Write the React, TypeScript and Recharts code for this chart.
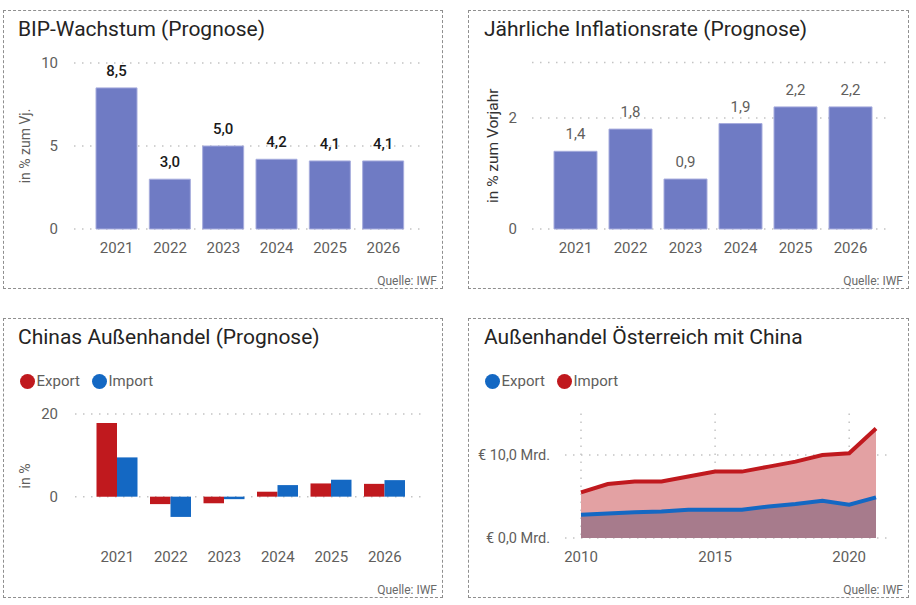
import React from 'react';
import {
  BarChart, Bar, XAxis, YAxis, CartesianGrid, LabelList,
  AreaChart, Area,
} from 'recharts';

const forecastYears = ['2021', '2022', '2023', '2024', '2025', '2026'];
const gdpGrowth = [8.5, 3.0, 5.0, 4.2, 4.1, 4.1];
const inflationRate = [1.4, 1.8, 0.9, 1.9, 2.2, 2.2];
const chinaExport = [17.8, -1.8, -1.6, 1.2, 3.2, 3.1];
const chinaImport = [9.5, -4.9, -0.6, 2.8, 4.1, 4.0];

const tradeYears = [2010, 2011, 2012, 2013, 2014, 2015, 2016, 2017, 2018, 2019, 2020, 2021];
const atExportToChina = [2.8, 2.95, 3.1, 3.2, 3.4, 3.4, 3.4, 3.8, 4.1, 4.5, 4.0, 4.9];
const atImportFromChina = [5.5, 6.5, 6.8, 6.8, 7.4, 8.0, 8.0, 8.6, 9.2, 10.0, 10.2, 13.2];

const gdpTicks = [0, 5, 10];
const inflationTicks = [0, 2];
const chinaTicks = [0, 20];
const tradeYTicks = [0, 10];
const tradeXTicks = [2010, 2015, 2020];

const gdpData = forecastYears.map((y, i) => ({ year: y, value: gdpGrowth[i] }));
const inflationData = forecastYears.map((y, i) => ({ year: y, value: inflationRate[i] }));
const chinaData = forecastYears.map((y, i) => ({ year: y, exp: chinaExport[i], imp: chinaImport[i] }));
const tradeData = tradeYears.map((y, i) => ({ year: y, exp: atExportToChina[i], imp: atImportFromChina[i] }));

const FONT = 'Roboto, "DejaVu Sans", sans-serif';
const GRAY = '#605E5C';
const DARK = '#252423';
const BAR = '#6F7BC4';
const RED = '#C0191E';
const BLUE = '#1468C3';

const fmt = (v: number) => v.toFixed(1).replace('.', ',');
const fmtMrd = (v: number) => `€ ${v.toFixed(1).replace('.', ',')} Mrd.`;

const tickStyle = { fill: GRAY, fontSize: 15 };
const GRID = { stroke: '#c4c4c4', strokeWidth: 1.5, strokeDasharray: '1.5 6.5' };

function Panel(props: { left: number; top: number; width: number; height: number; title: string; titleLeft: number; children: React.ReactNode }) {
  return (
    <div
      style={{
        position: 'absolute', left: props.left, top: props.top, width: props.width, height: props.height,
        border: '1px dashed #8f8f8f', boxSizing: 'border-box',
      }}
    >
      <div style={{ position: 'absolute', left: props.titleLeft, top: 6, fontSize: 21, color: DARK, whiteSpace: 'nowrap', lineHeight: 'normal' }}>
        {props.title}
      </div>
      {props.children}
      <div style={{ position: 'absolute', right: 5, bottom: 0, fontSize: 12, color: '#6a6a6a', lineHeight: 'normal' }}>Quelle: IWF</div>
    </div>
  );
}

function LegendItem(props: { color: string; label: string; x: number }) {
  return (
    <div style={{ position: 'absolute', left: props.x - 7.5, top: 52, display: 'flex', alignItems: 'center', height: 20 }}>
      <span style={{ width: 15, height: 15, borderRadius: '50%', background: props.color, display: 'inline-block' }} />
      <span style={{ marginLeft: 2, fontSize: 15, color: GRAY }}>{props.label}</span>
    </div>
  );
}

export default function App() {
  return (
    <div style={{ position: 'absolute', left: 0, top: 0, width: 916, height: 605, background: '#fff', fontFamily: FONT }}>
      <Panel left={3} top={10} width={440} height={279} title="BIP-Wachstum (Prognose)" titleLeft={14}>
        <div style={{ position: 'absolute', left: -1, top: -1 }}>
          <BarChart width={440} height={279} data={gdpData} margin={{ top: 53, right: 21, bottom: 0, left: 0 }}>
            <CartesianGrid vertical={false} {...GRID} />
            <XAxis dataKey="year" axisLine={false} tickLine={false} tickSize={0} tickMargin={13} height={60}
              padding={{ left: 16, right: 12 }} tick={tickStyle} interval={0} />
            <YAxis domain={[0, 10]} ticks={gdpTicks} axisLine={false} tickLine={false} tickSize={0} tickMargin={16} width={71}
              tick={tickStyle}
              label={{ value: 'in % zum Vj.', angle: -90, position: 'insideLeft', offset: 22, style: { textAnchor: 'middle', fill: GRAY, fontSize: 14 } }} />
            <Bar dataKey="value" fill={BAR} stroke="#A6ACDD" strokeWidth={1} barSize={41} isAnimationActive={false}>
              <LabelList dataKey="value" position="top" offset={12} formatter={(v: any) => fmt(Number(v))}
                style={{ fill: '#1a1a1a', fontSize: 15, fontWeight: 500 }} />
            </Bar>
          </BarChart>
        </div>
      </Panel>

      <Panel left={468} top={10} width={441} height={279} title="Jährliche Inflationsrate (Prognose)" titleLeft={15}>
        <div style={{ position: 'absolute', left: -1, top: -1 }}>
          <BarChart width={441} height={279} data={inflationData} margin={{ top: 52.5, right: 19, bottom: 0, left: 0 }}>
            <CartesianGrid vertical={false} {...GRID} />
            <XAxis dataKey="year" axisLine={false} tickLine={false} tickSize={0} tickMargin={13} height={60}
              padding={{ left: 16, right: 12 }} tick={tickStyle} interval={0} />
            <YAxis domain={[0, 3]} ticks={inflationTicks} axisLine={false} tickLine={false} tickSize={0} tickMargin={15} width={64}
              tick={tickStyle}
              label={{ value: 'in % zum Vorjahr', angle: -90, position: 'insideLeft', offset: 24, style: { textAnchor: 'middle', fill: '#333', fontSize: 15.5 } }} />
            <Bar dataKey="value" fill={BAR} stroke="#A6ACDD" strokeWidth={1} barSize={43} isAnimationActive={false}>
              <LabelList dataKey="value" position="top" offset={12} formatter={(v: any) => fmt(Number(v))}
                style={{ fill: GRAY, fontSize: 15 }} />
            </Bar>
          </BarChart>
        </div>
      </Panel>

      <Panel left={3} top={318} width={440} height={280} title="Chinas Außenhandel (Prognose)" titleLeft={14}>
        <LegendItem color={RED} label="Export" x={23} />
        <LegendItem color={BLUE} label="Import" x={95} />
        <div style={{ position: 'absolute', left: -1, top: -1 }}>
          <BarChart width={440} height={280} data={chinaData} margin={{ top: 96, right: 20, bottom: 0, left: 0 }} barGap={0}>
            <CartesianGrid vertical={false} horizontalValues={chinaTicks} {...GRID} />
            <XAxis dataKey="year" axisLine={false} tickLine={false} tickSize={0} tickMargin={13} height={60}
              padding={{ left: 15.5, right: 11.5 }} tick={tickStyle} interval={0} />
            <YAxis domain={[-10, 20]} ticks={chinaTicks} axisLine={false} tickLine={false} tickSize={0} tickMargin={17} width={72}
              tick={tickStyle}
              label={{ value: 'in %', angle: -90, position: 'insideLeft', offset: 22, style: { textAnchor: 'middle', fill: GRAY, fontSize: 14 } }} />
            <Bar dataKey="exp" fill={RED} barSize={20.5} isAnimationActive={false} />
            <Bar dataKey="imp" fill={BLUE} barSize={20.5} isAnimationActive={false} />
          </BarChart>
        </div>
      </Panel>

      <Panel left={468} top={318} width={441} height={280} title="Außenhandel Österreich mit China" titleLeft={15}>
        <LegendItem color={BLUE} label="Export" x={23} />
        <LegendItem color={RED} label="Import" x={95} />
        <div style={{ position: 'absolute', left: -1, top: -1 }}>
          <AreaChart width={441} height={280} data={tradeData} margin={{ top: 95.5, right: 22, bottom: 0, left: 0 }}>
            <CartesianGrid horizontalValues={tradeYTicks} verticalValues={tradeXTicks} {...GRID} />
            <XAxis dataKey="year" type="number" domain={[2010, 2021]} ticks={tradeXTicks} axisLine={false} tickLine={false}
              tickSize={0} tickMargin={13} height={60} padding={{ left: 16, right: 11 }} tick={tickStyle} />
            <YAxis domain={[0, 15]} ticks={tradeYTicks} axisLine={false} tickLine={false} tickSize={0} tickMargin={15} width={97}
              tick={{ fill: GRAY, fontSize: 14.5 }} tickFormatter={(v: number) => fmtMrd(v)} />
            <Area type="linear" dataKey="imp" stroke={RED} strokeWidth={4} fill="#E3A1A3" fillOpacity={1} isAnimationActive={false} />
            <Area type="linear" dataKey="exp" stroke={BLUE} strokeWidth={4} fill="#A77B8C" fillOpacity={1} isAnimationActive={false} />
          </AreaChart>
        </div>
      </Panel>
    </div>
  );
}
